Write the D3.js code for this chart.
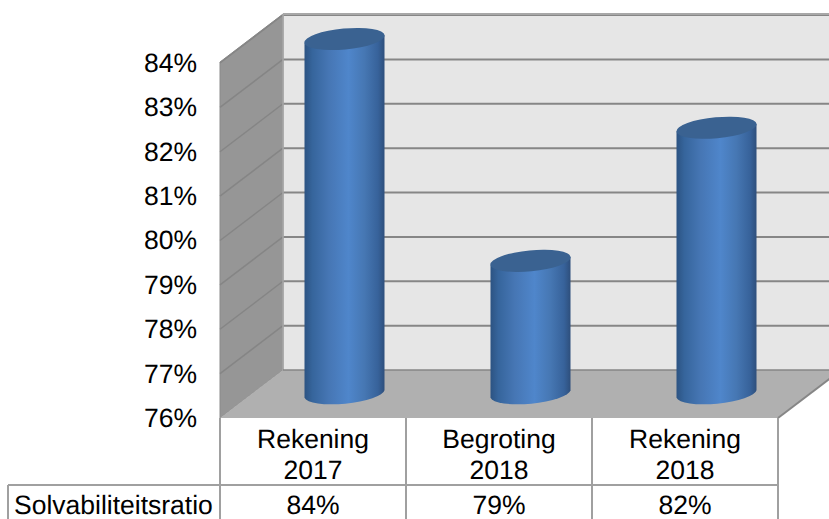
<!DOCTYPE html>
<html>
<head>
<meta charset="utf-8">
<script src="https://cdn.jsdelivr.net/npm/d3@7"></script>
<style>
  html, body { margin: 0; padding: 0; background: #fff; overflow: hidden; }
  text { font-family: "Liberation Sans", Arial, sans-serif; fill: #000; text-rendering: geometricPrecision; }
</style>
</head>
<body>
<svg id="chart"></svg>
<script>
const categories = [["Rekening", "2017"], ["Begroting", "2018"], ["Rekening", "2018"]];
const seriesName = "Solvabiliteitsratio";
const values = [84, 79, 82];
const yTicks = [76, 77, 78, 79, 80, 81, 82, 83, 84];

const width = 829, height = 519;
const plotLeft = 220, plotRight = 778, plotBottom = 418, plotTop = 63;
const depthX = 63, depthY = -48;       // offset of the back wall
const barWidth = 80, capRy = 10.5, capAngle = -5.4;
const tableMid = 485, tableLeft = 8;
const fontSize = 26.5;
const gridColor = "#868686", tableColor = "#a0a0a0";

const svg = d3.select("#chart").attr("width", width).attr("height", height);

const y = d3.scaleLinear().domain([76, 84]).range([plotBottom, plotTop]);
const x = d3.scaleBand().domain(d3.range(categories.length)).range([plotLeft, plotRight]);

// gradient across the cylinder body
const grad = svg.append("defs").append("linearGradient")
  .attr("id", "barGrad").attr("x1", "0%").attr("x2", "100%");
[[0, "#2c5382"], [0.1, "#36659c"], [0.3, "#4676b4"], [0.55, "#4f86cb"], [0.75, "#4677b3"], [0.92, "#37629a"], [1, "#2e4f7c"]]
  .forEach(s => grad.append("stop").attr("offset", s[0]).attr("stop-color", s[1]));

const wallTop = 14;

// back wall, side wall and floor
svg.append("rect")
  .attr("x", plotLeft + depthX).attr("y", wallTop)
  .attr("width", width).attr("height", plotBottom + depthY - wallTop)
  .attr("fill", "#e6e6e6");
svg.append("polygon")
  .attr("points", [[plotLeft, plotBottom], [plotLeft + depthX, plotBottom + depthY], [plotLeft + depthX, wallTop], [plotLeft, wallTop - depthY]].join(" "))
  .attr("fill", "#969696").attr("stroke", "#8a8a8a");
svg.append("polygon")
  .attr("points", [[plotLeft, plotBottom], [plotRight, plotBottom], [plotRight + depthX, plotBottom + depthY], [plotLeft + depthX, plotBottom + depthY]].join(" "))
  .attr("fill", "#b0b0b0");

// gridlines on the walls
const gridTicks = yTicks.slice(1);
svg.append("g").selectAll("line.back").data(gridTicks).join("line")
  .attr("class", "back")
  .attr("x1", plotLeft + depthX).attr("x2", width)
  .attr("y1", d => y(d) + depthY).attr("y2", d => y(d) + depthY)
  .attr("stroke", gridColor).attr("stroke-width", 2);
svg.append("g").selectAll("line.side").data(gridTicks).join("line")
  .attr("class", "side")
  .attr("x1", plotLeft).attr("x2", plotLeft + depthX)
  .attr("y1", d => y(d)).attr("y2", d => y(d) + depthY)
  .attr("stroke", "#858585").attr("stroke-width", 1.5);
svg.append("line")
  .attr("x1", plotLeft + depthX).attr("x2", width)
  .attr("y1", wallTop).attr("y2", wallTop)
  .attr("stroke", "#a8a8a8").attr("stroke-width", 2);
svg.append("line")
  .attr("x1", plotLeft + depthX).attr("x2", plotLeft + depthX)
  .attr("y1", wallTop).attr("y2", plotBottom + depthY)
  .attr("stroke", "#a8a8a8").attr("stroke-width", 1.5);
svg.append("line")
  .attr("x1", plotLeft + depthX).attr("x2", width)
  .attr("y1", plotBottom + depthY).attr("y2", plotBottom + depthY)
  .attr("stroke", gridColor).attr("stroke-width", 1.5);
svg.append("line")
  .attr("x1", plotRight).attr("x2", plotRight + depthX)
  .attr("y1", plotBottom).attr("y2", plotBottom + depthY)
  .attr("stroke", gridColor).attr("stroke-width", 2);

// cylinders, the depth offset puts them halfway into the floor
const cx = i => x(i) + x.bandwidth() / 2 + depthX / 2;
const baseY = plotBottom + depthY / 2;
const tilt = Math.tan(capAngle * Math.PI / 180) * barWidth / 2;
const bars = svg.append("g").selectAll("g").data(values).join("g");

bars.append("path")
  .attr("d", (d, i) => {
    const l = cx(i) - barWidth / 2, r = cx(i) + barWidth / 2, top = y(d) + depthY / 2;
    return `M${l},${top - tilt}L${r},${top + tilt}L${r},${baseY + tilt}` +
      `A${barWidth / 2 + 0.3},${capRy} ${capAngle} 0 1 ${l},${baseY - tilt}Z`;
  })
  .attr("fill", "url(#barGrad)");

bars.append("ellipse")
  .attr("rx", barWidth / 2 + 0.3).attr("ry", capRy)
  .attr("transform", (d, i) => `translate(${cx(i)},${y(d) + depthY / 2}) rotate(${capAngle})`)
  .attr("fill", "#3a6291");

// y axis labels
const axis = d3.axisLeft(y).tickValues(yTicks).tickSize(0).tickPadding(23).tickFormat(d => d + "%");
svg.append("g").attr("transform", `translate(${plotLeft},0)`).call(axis)
  .call(g => g.select(".domain").remove())
  .selectAll("text").attr("font-size", fontSize).attr("dy", "0.32em")
  .style("font-family", "'Liberation Sans', Arial, sans-serif");

// data table
const table = svg.append("g").attr("stroke", tableColor).attr("stroke-width", 2);
table.append("line").attr("x1", tableLeft).attr("x2", plotRight).attr("y1", tableMid).attr("y2", tableMid);
table.append("line").attr("x1", tableLeft).attr("x2", tableLeft).attr("y1", tableMid).attr("y2", height);
table.selectAll("line.col").data(d3.range(categories.length + 1)).join("line")
  .attr("class", "col")
  .attr("x1", i => plotLeft + i * x.bandwidth()).attr("x2", i => plotLeft + i * x.bandwidth())
  .attr("y1", plotBottom).attr("y2", height);

const labels = svg.append("g").attr("text-anchor", "middle").attr("font-size", fontSize);
categories.forEach((lines, i) => {
  lines.forEach((t, k) => {
    labels.append("text")
      .attr("x", x(i) + x.bandwidth() / 2)
      .attr("y", 448 + k * 31)
      .text(t);
  });
  labels.append("text")
    .attr("x", x(i) + x.bandwidth() / 2)
    .attr("y", 514)
    .text(d3.format(".0f")(values[i]) + "%");
});
svg.append("text").attr("x", 14).attr("y", 514).attr("font-size", fontSize).text(seriesName);
</script>
</body>
</html>
